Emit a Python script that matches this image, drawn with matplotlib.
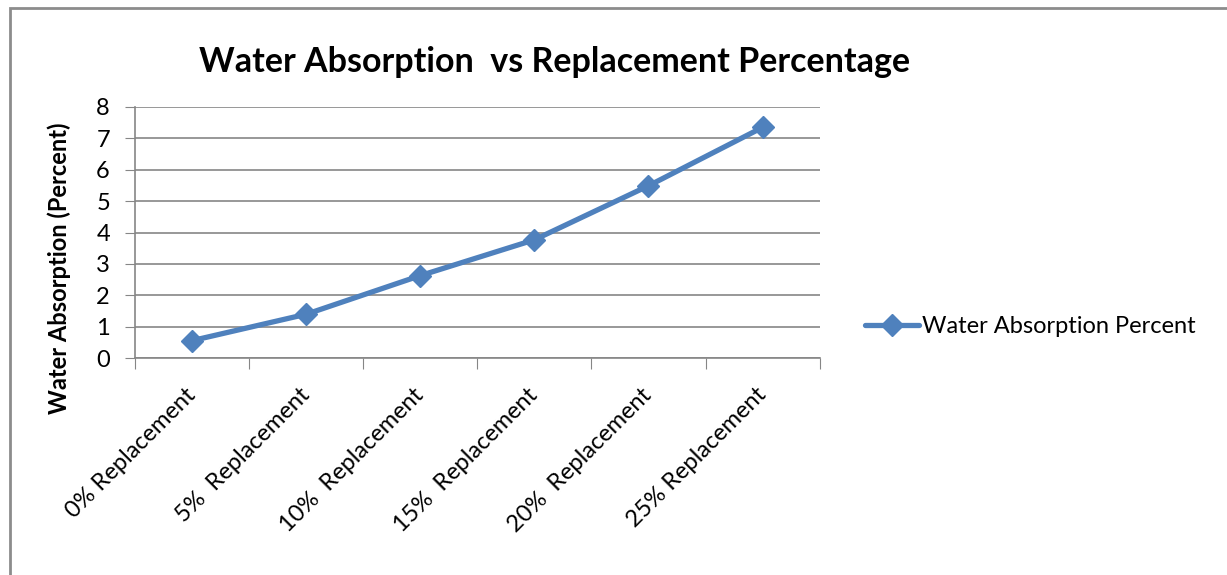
import matplotlib.pyplot as plt
from matplotlib.patches import Rectangle

# 데이터
categories = ["0% Replacement", "5%  Replacement", "10%  Replacement",
              "15%  Replacement", "20%  Replacement", "25% Replacement"]
absorption = [0.56, 1.40, 2.63, 3.77, 5.49, 7.35]
yticks = [0, 1, 2, 3, 4, 5, 6, 7, 8]

plt.rcParams['font.family'] = ['Lato', 'DejaVu Sans']

fig = plt.figure(figsize=(12.27, 5.75), dpi=100)
ax = fig.add_axes([0.110, 0.377, 0.558, 0.437])

x = list(range(len(categories)))
ax.plot(x, absorption, color="#4F81BD", linewidth=3.8, marker="D", markersize=11,
        label="Water Absorption Percent", solid_capstyle="round")

# 축 설정
ax.set_xlim(-0.5, len(categories) - 0.5)
ax.set_ylim(0, 8)
ax.set_yticks(yticks)
ax.tick_params(axis="y", labelsize=17, length=7, color="#868686", pad=11)
ax.set_xticks([i - 0.5 for i in range(len(categories) + 1)])
ax.set_xticklabels([])
ax.set_xticks(x, minor=True)
ax.set_xticklabels(categories, minor=True, rotation=45, ha="right",
                   va="center", rotation_mode="anchor", fontsize=17)
ax.tick_params(axis="x", which="major", length=8, color="#868686")
ax.tick_params(axis="x", which="minor", length=0, pad=24)
ax.grid(axis="y", color="#868686", linewidth=1.2)
ax.set_axisbelow(True)
for s in ["top", "right"]:
    ax.spines[s].set_visible(False)
for s in ["left", "bottom"]:
    ax.spines[s].set_color("#868686")
    ax.spines[s].set_linewidth(1.2)

ax.set_ylabel("Water Absorption (Percent)", fontsize=17, fontweight="bold")
ax.yaxis.set_label_coords(-0.093, 0.36)

fig.text(0.452, 0.893, "Water Absorption  vs Replacement Percentage",
         ha="center", va="center", fontsize=24.5, fontweight="bold")

ax.legend(loc="center left", bbox_to_anchor=(1.035, 0.125), frameon=False,
          fontsize=17, handlelength=2.3, handletextpad=0.1)

# 바깥 테두리
fig.patches.append(Rectangle((10 / 1227, -0.1), 1.2, (575 - 8) / 575 + 0.1,
                             transform=fig.transFigure, fill=False,
                             edgecolor="#8c8c8c", linewidth=2))

fig.savefig("out.png", dpi=100)
